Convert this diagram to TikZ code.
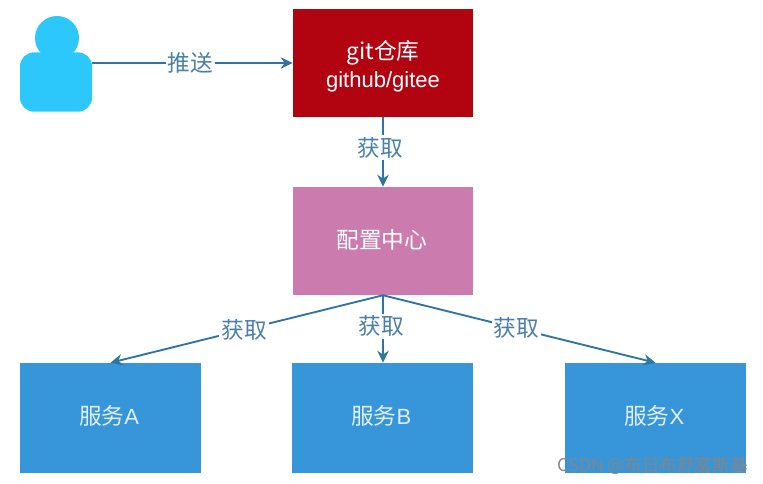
\documentclass[tikz,border=0pt]{standalone}
\usepackage{fontspec}
\setmainfont{Noto Sans CJK SC}
\newfontfamily\latinf{Liberation Sans}
\usetikzlibrary{arrows.meta}
\definecolor{personc}{HTML}{2CC7FB}
\definecolor{gitc}{HTML}{B20410}
\definecolor{cfgc}{HTML}{CB7BAE}
\definecolor{svcc}{HTML}{3696D9}
\definecolor{linec}{HTML}{2E75A6}
\definecolor{labelc}{HTML}{4A7FA8}
\tikzset{
  px/.style={x=0.75pt,y=-0.75pt},
  boxn/.style={draw=none,minimum width=135pt,minimum height=81pt,inner sep=0pt},
  boxtext/.style={inner sep=0pt,text=white,font=\fontsize{17pt}{21pt}\selectfont,align=center},
  svc/.style={boxn,fill=svcc,minimum width=136pt,minimum height=82.5pt},
  svctext/.style={boxtext,text=white!85!svcc},
  conn/.style={draw=linec,line width=1.4pt,-{Stealth[length=9pt,width=8.5pt]}},
  lab/.style={fill=white,text=labelc,inner sep=1.5pt,font=\fontsize{17pt}{19pt}\selectfont},
}
\newcommand{\ltn}[1]{{\latinf\fontsize{16.5pt}{21pt}\selectfont #1}}
\begin{document}
\begin{tikzpicture}[px]
\useasboundingbox (0,0) rectangle (763,484);
% person
\fill[personc] (57,38) circle[radius=22];
\node[fill=personc,draw=none,rounded corners=10.5pt,minimum width=54pt,minimum height=44.5pt,inner sep=0pt] (user) at (56,82) {};
% boxes
\node[boxn,fill=gitc] (git) at (383,63) {};
\node[boxn,fill=cfgc] (cfg) at (383,241) {};
\node[svc] (a) at (110.5,418) {};
\node[svc] (b) at (382.5,418) {};
\node[svc] (x) at (655.5,418) {};
% box texts
\node[boxtext,yshift=-2.6pt] (gittext) at (git) {git仓库\\\ltn{github/gitee}};
\node[boxtext,xshift=-1pt,yshift=.8pt] (cfgtext) at (cfg) {配置中心};
\node[svctext,xshift=-1pt,yshift=1.5pt] (atext) at (a) {服务\ltn{A}};
\node[svctext,xshift=-1pt,yshift=1.5pt] (btext) at (b) {服务\ltn{B}};
\node[svctext,xshift=-1pt,yshift=1.5pt] (xtext) at (x) {服务\ltn{X}};
% connectors
\draw[conn] (user.east |- git.west) -- node[lab,pos=0.49]{推送} (git.west);
\draw[conn] (git.south) -- node[lab,pos=0.44,xshift=-2pt]{获取} (cfg.north);
\draw[conn] (cfg.south) -- node[lab,pos=0.51]{获取} (a.north);
\draw[conn] (cfg.south) -- node[lab,pos=0.46,xshift=-1.5pt]{获取} (cfg.south |- b.north);
\draw[conn] (cfg.south) -- node[lab,pos=0.49]{获取} (x.north);
% watermark
\node[inner sep=0pt,text=black!48,font=\fontsize{13.2pt}{15pt}\selectfont,anchor=east] (wm) at (748,466) {CSDN @布日布舒富斯基};
\end{tikzpicture}
\end{document}
